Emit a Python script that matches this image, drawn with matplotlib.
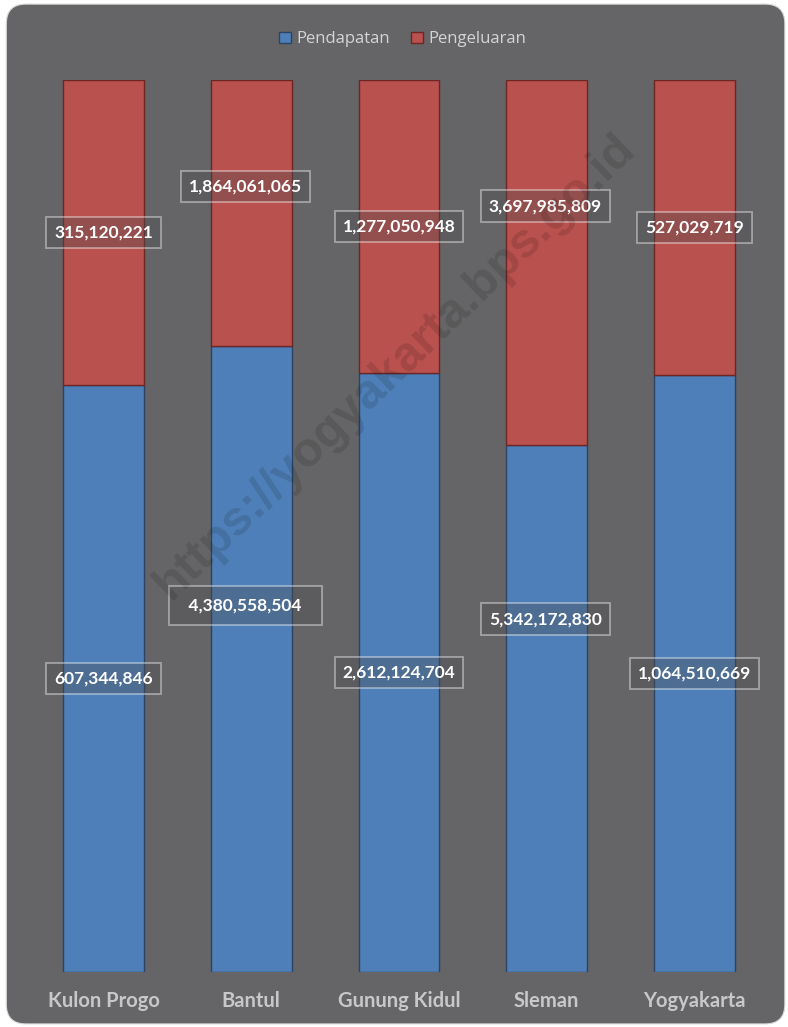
import matplotlib.pyplot as plt
from matplotlib.patches import FancyBboxPatch
import numpy as np

regions = ["Kulon Progo", "Bantul", "Gunung Kidul", "Sleman", "Yogyakarta"]
pendapatan = [607344846, 4380558504, 2612124704, 5342172830, 1064510669]
pengeluaran = [315120221, 1864061065, 1277050948, 3697985809, 527029719]

# manual label nudges (fraction of bar height), as in the original chart
blue_shift = [0.0, 0.06, 0.0, 0.10, 0.0]
red_shift = [0.0, 0.03, 0.0, 0.063, 0.0]
x_shift = [0.0, -0.04, 0.0, -0.01, 0.0]
blue_pad = [0.45, 0.68, 0.45, 0.45, 0.45]
blue_fill = ["", "  ", "", "", ""]

blue = "#4f7fb8"
red = "#b9514e"
bg = "#656567"

fig = plt.figure(figsize=(7.88, 10.27), dpi=100, facecolor="white")
fig.patches.append(FancyBboxPatch((0.008, 0.003), 0.988, 0.993, boxstyle="round,pad=0,rounding_size=0.025",
                                  transform=fig.transFigure, facecolor=bg, edgecolor="#d8d8d8",
                                  linewidth=0.8, mutation_aspect=788 / 1027, zorder=-10))

ax = fig.add_axes([0.0376, 0.0536, 0.9375, 0.8685])
ax.set_facecolor("none")

tot = np.array(pendapatan, float) + np.array(pengeluaran, float)
fb = np.array(pendapatan) / tot
fr = np.array(pengeluaran) / tot
x = np.arange(len(regions))
w = 0.548

ax.bar(x, fb, w, color=blue, edgecolor="#2b4466", linewidth=1.0, label="Pendapatan")
ax.bar(x, fr, w, bottom=fb, color=red, edgecolor="#6e2624", linewidth=1.0, label="Pengeluaran")

for i in range(len(regions)):
    for yv, txt, pad in [(fb[i] / 2 + blue_shift[i], blue_fill[i] + f"{pendapatan[i]:,}" + blue_fill[i], blue_pad[i]),
                         (fb[i] + fr[i] / 2 + red_shift[i], f"{pengeluaran[i]:,}", 0.45)]:
        ax.text(x[i] + x_shift[i], yv, txt, ha="center", va="center", color="white",
                fontsize=12.5, fontweight="bold", family="Lato", zorder=5,
                bbox=dict(boxstyle=f"square,pad={pad}", facecolor=(0.3, 0.3, 0.31, 0.35),
                          edgecolor=(1, 1, 1, 0.42), linewidth=1.3))

ax.set_xlim(-0.5, 4.5)
ax.set_ylim(0, 1)
ax.set_yticks([])
ax.set_xticks(x)
ax.set_xticklabels(regions, fontsize=14.5, fontweight="bold", family="Lato", color="#c8c8ca")
ax.tick_params(axis="x", length=0, pad=14)
for s in ax.spines.values():
    s.set_visible(False)

leg = fig.legend(loc="upper center", bbox_to_anchor=(0.511, 0.984), ncol=2, frameon=False,
                 handlelength=0.7, handleheight=0.7, handletextpad=0.3, columnspacing=1.3,
                 prop={"family": "Open Sans", "size": 12})
for t in leg.get_texts():
    t.set_color("#d4d4d6")

fig.text(0.501, 0.643, "https://yogyakarta.bps.go.id", rotation=44, ha="center", va="center",
         fontsize=35, fontweight="bold", family="Liberation Sans", color="black", alpha=0.12, zorder=20)

fig.savefig("out.png", dpi=100, facecolor="white")
